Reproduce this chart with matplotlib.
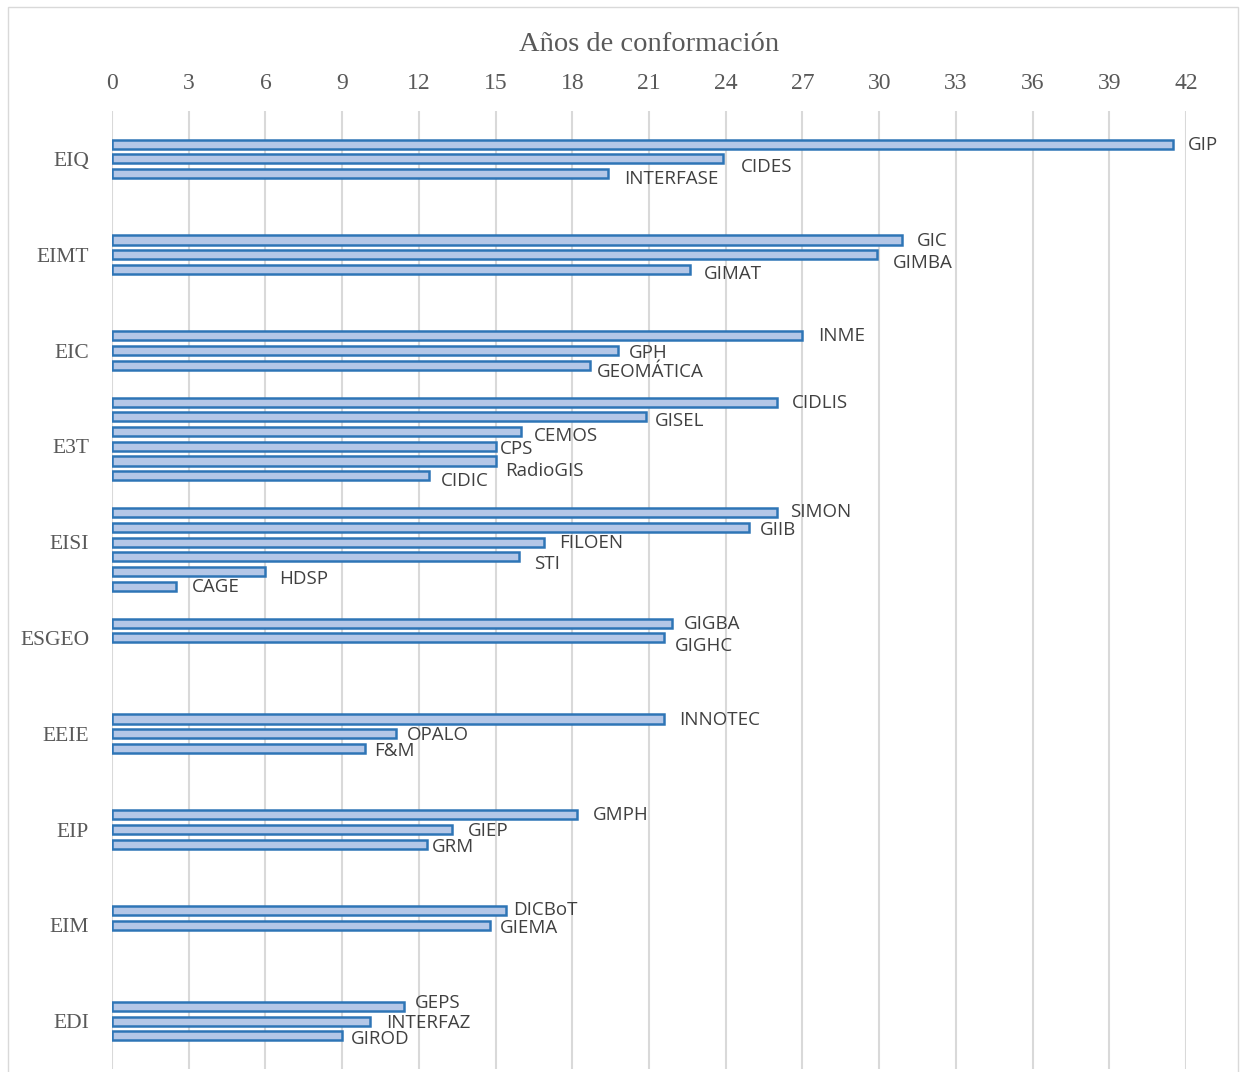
import matplotlib.pyplot as plt
from matplotlib.patches import Rectangle

# datos
facultades = ['EIQ', 'EIMT', 'EIC', 'E3T', 'EISI', 'ESGEO', 'EEIE', 'EIP', 'EIM', 'EDI']
grupos = [
    ['GIP', 'CIDES', 'INTERFASE'],
    ['GIC', 'GIMBA', 'GIMAT'],
    ['INME', 'GPH', 'GEOMÁTICA'],
    ['CIDLIS', 'GISEL', 'CEMOS', 'CPS', 'RadioGIS', 'CIDIC'],
    ['SIMON', 'GIIB', 'FILOEN', 'STI', 'HDSP', 'CAGE'],
    ['GIGBA', 'GIGHC'],
    ['INNOTEC', 'OPALO', 'F&M'],
    ['GMPH', 'GIEP', 'GRM'],
    ['DICBoT', 'GIEMA'],
    ['GEPS', 'INTERFAZ', 'GIROD'],
]
anios = [
    [41.5, 23.9, 19.4],
    [30.9, 29.9, 22.6],
    [27.0, 19.8, 18.7],
    [26.0, 20.9, 16.0, 15.0, 15.0, 12.4],
    [26.0, 24.9, 16.9, 15.9, 6.0, 2.5],
    [21.9, 21.6],
    [21.6, 11.1, 9.9],
    [18.2, 13.3, 12.3],
    [15.4, 14.8],
    [11.4, 10.1, 9.0],
]

# primer hueco de cada grupo (posicion dentro de la categoria)
inicio = [-1, -1, -1, -3, -2, -1, -1, -1, -1, -1]
# desplazamiento de etiquetas (px a la derecha, px hacia abajo)
desp = [
    [(15, 1), (18, 8), (16, 5)],
    [(15, 1), (16, 8), (14, 5)],
    [(16, 0), (11, 3), (7, 7)],
    [(15, 1), (8, 4), (13, 4), (4, 3), (10, 10), (12, 5)],
    [(13, -1), (11, 3), (15, 1), (15, 7), (14, 7), (16, 1)],
    [(12, 1), (11, 8)],
    [(15, 1), (11, 1), (9, 3)],
    [(15, 0), (16, 1), (5, 3)],
    [(7, -1), (9, 3)],
    [(11, -3), (16, 2), (9, 3)],
]

slot = 0.1536
alto = 0.095
gris = '#595959'

fig = plt.figure(figsize=(12.41, 10.72), dpi=100)
ax = fig.add_axes([112 / 1241, 3 / 1072, 1074 / 1241, 958 / 1072])

for i, fac in enumerate(facultades):
    for j, (g, v) in enumerate(zip(grupos[i], anios[i])):
        y = i + (inicio[i] + j) * slot
        ax.barh(y, v, height=alto, color='#B4C7E7', edgecolor='#2E75B6',
                linewidth=1.8, zorder=3)
        dx, dy = desp[i][j]
        ax.annotate(g, (v, y), xytext=(dx, -dy), textcoords='offset pixels',
                    ha='left', va='center', fontsize=13.5, color='#404040',
                    family='Open Sans', annotation_clip=False)

ax.set_xlim(0, 42)
ax.set_ylim(len(facultades) - 0.5, -0.5)
ax.set_xticks(range(0, 43, 3))
ax.set_yticks(range(len(facultades)))
ax.set_yticklabels(facultades)
ax.xaxis.tick_top()
ax.xaxis.set_label_position('top')
ax.tick_params(axis='both', length=0, labelcolor=gris)
ax.tick_params(axis='x', pad=12.5, labelsize=17)
ax.tick_params(axis='y', pad=16.5, labelsize=15.5)
for lab in ax.get_xticklabels() + ax.get_yticklabels():
    lab.set_family('Liberation Serif')
ax.set_xlabel('Años de conformación', family='Liberation Serif', fontsize=20.5,
              color=gris, labelpad=15.5)
ax.grid(axis='x', color='#D9D9D9', linewidth=1.5, zorder=0)
ax.set_axisbelow(True)
for s in ax.spines.values():
    s.set_visible(False)

# borde del area del grafico
fig.add_artist(Rectangle((8 / 1241, -0.01), 1230 / 1241, 1 - 7 / 1072 + 0.01,
                         transform=fig.transFigure, fill=False,
                         edgecolor='#D9D9D9', linewidth=1))

fig.savefig('out.png', dpi=100)
